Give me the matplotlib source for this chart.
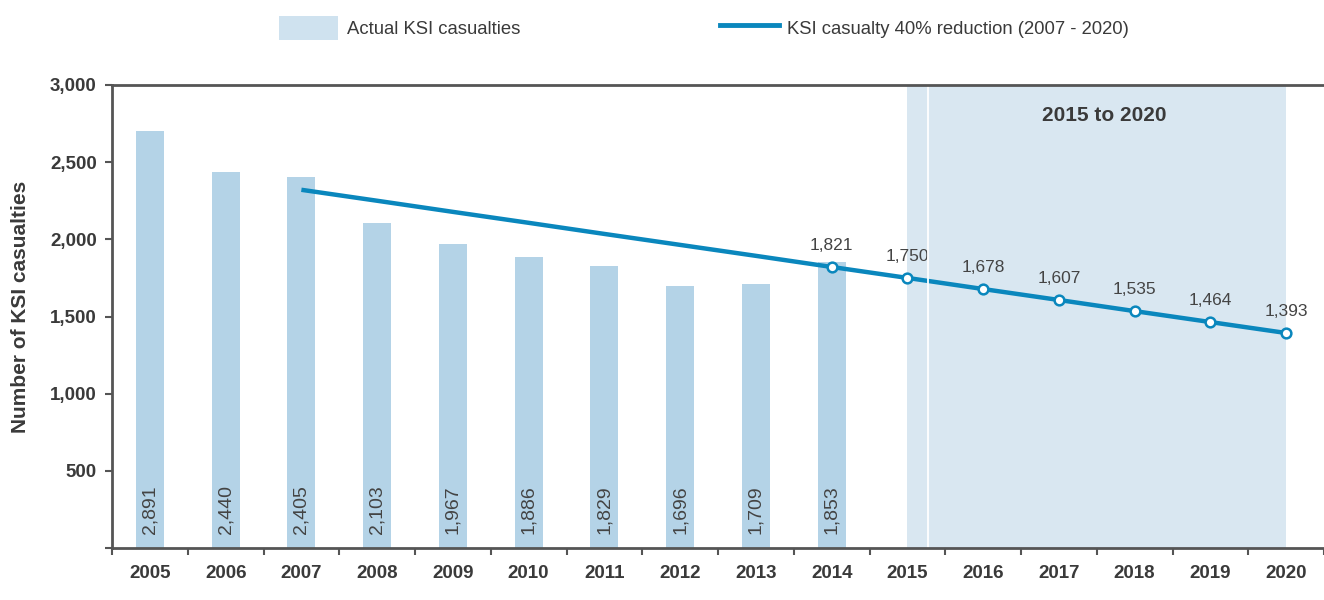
import matplotlib
matplotlib.use("Agg")
import matplotlib.pyplot as plt
from matplotlib.patches import Patch
from matplotlib.lines import Line2D

plt.rcParams['font.family'] = ['Liberation Sans', 'DejaVu Sans']

# data
years = ['2005', '2006', '2007', '2008', '2009', '2010', '2011', '2012',
         '2013', '2014', '2015', '2016', '2017', '2018', '2019', '2020']
actual_years = years[:10]
actual_heights = [2700, 2437, 2405, 2103, 1967, 1886, 1829, 1696, 1709, 1853]
actual_labels = ['2,891', '2,440', '2,405', '2,103', '1,967', '1,886',
                 '1,829', '1,696', '1,709', '1,853']

target_years = years[2:]
target_values = [2321, 2250, 2178, 2107, 2035, 1964, 1893, 1821,
                 1750, 1678, 1607, 1535, 1464, 1393]
marked_years = years[9:]
marked_values = target_values[7:]
marked_labels = ['1,821', '1,750', '1,678', '1,607', '1,535', '1,464', '1,393']

BAR = '#b4d3e7'
SHADE = '#d9e7f1'
LINE = '#0a87bd'
TXT = '#3a3a3a'
AX = '#555555'

fig = plt.figure(figsize=(13.24, 6.0), dpi=100)
ax = fig.add_axes([112 / 1324, 1 - 548 / 600, 1 - 112 / 1324, 463 / 600])

pos = {y: i for i, y in enumerate(years)}

# projection period shading
ax.axvspan(pos['2015'], pos['2020'], color=SHADE, zorder=0, lw=0)
ax.text((pos['2015'] + pos['2020']) / 2 + 0.1, 2800, '2015 to 2020', ha='center', va='center',
        fontsize=15, fontweight='bold', color=TXT)

xb = [pos[y] for y in actual_years]
ax.bar(xb, actual_heights, width=0.37, color=BAR, zorder=1)
for x, lab in zip(xb, actual_labels):
    ax.text(x, 90, lab, rotation=90, ha='center', va='bottom', fontsize=14, color='#444444', zorder=2)

xl = [pos[y] for y in target_years]
ax.plot(xl, target_values, color=LINE, lw=3.2, solid_capstyle='butt', zorder=3)
xm = [pos[y] for y in marked_years]
ax.plot(xm, marked_values, ls='none', marker='o', ms=7, mfc='white', mec=LINE, mew=1.8, zorder=4)
for x, v, lab in zip(xm, marked_values, marked_labels):
    ax.annotate(lab, (x, v), xytext=(0, 10), textcoords='offset points', ha='center', va='bottom',
                fontsize=12.5, color='#444444', zorder=5)

# thin white separator just after 2015
ax.axvline(pos['2015'] + 0.27, color='white', lw=1.3, zorder=6)

ax.set_xlim(-0.5, 15.38)
ax.set_ylim(0, 3000)
ax.set_yticks([0, 500, 1000, 1500, 2000, 2500, 3000])
ax.set_yticklabels(['', '500', '1,000', '1,500', '2,000', '2,500', '3,000'])
ax.set_xticks(range(len(years)))
ax.set_xticklabels(years)
ax.set_xticks([i - 0.5 for i in range(len(years) + 1)], minor=True)
ax.tick_params(axis='x', which='major', length=0, pad=12, labelsize=13.5, labelcolor=TXT)
ax.tick_params(axis='x', which='minor', length=5, width=1.5, color=AX, direction='out')
ax.tick_params(axis='y', length=5, width=1.5, color=AX, pad=6, labelsize=13.5, labelcolor=TXT)
for lab in ax.get_xticklabels() + ax.get_yticklabels():
    lab.set_fontweight('bold')

for s in ['left', 'bottom', 'top']:
    ax.spines[s].set_color(AX)
    ax.spines[s].set_linewidth(2)
    ax.spines[s].set_zorder(7)
ax.spines['right'].set_visible(False)

ax.set_ylabel('Number of KSI casualties', fontsize=15, fontweight='bold', color=TXT)
ax.yaxis.set_label_coords(-0.068, 0.52)

handles = [Patch(color='#cfe2ef', lw=0),
           Line2D([0], [0], color=LINE, lw=3.5)]
labels = ['Actual KSI casualties', 'KSI casualty 40% reduction (2007 - 2020)']
fig.legend(handles, labels, loc='center', bbox_to_anchor=(704 / 1324, 1 - 28 / 600), ncol=2,
           frameon=False, fontsize=13.3, handlelength=3.2, handleheight=1.7, handletextpad=0.45,
           columnspacing=10.8, labelcolor=TXT)

fig.savefig('out.png', dpi=100)
